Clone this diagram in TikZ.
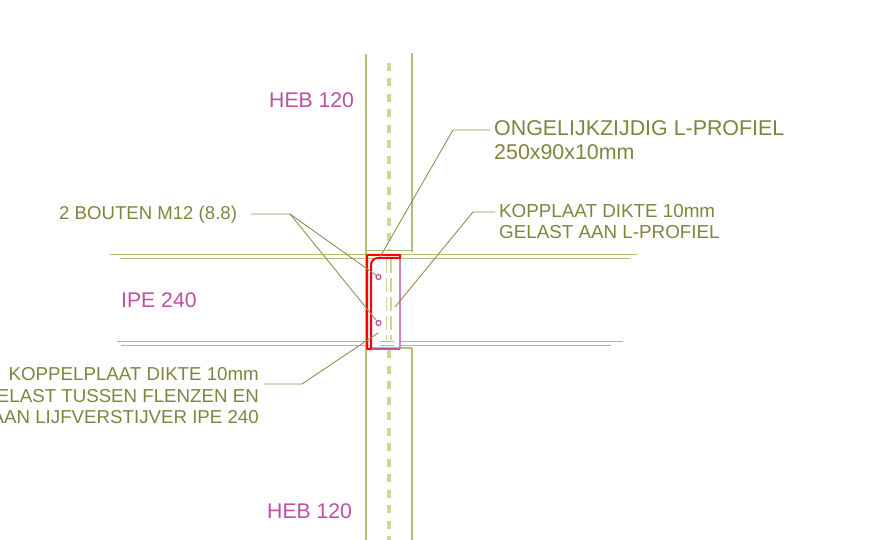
\documentclass[tikz,border=0pt]{standalone}
\usepackage{fontspec}
\setmainfont{Liberation Sans}
\usepackage{xcolor}
\definecolor{steel}{RGB}{176,190,120}
\definecolor{paleweb}{RGB}{205,214,155}
\definecolor{leadcol}{RGB}{140,145,85}
\definecolor{txtcol}{RGB}{128,132,62}
\definecolor{pinkcol}{RGB}{190,80,160}
\definecolor{platecol}{RGB}{210,130,195}
\tikzset{
  steelline/.style={steel,line width=1.5pt},
  webline/.style={paleweb,line width=4pt,dash pattern=on 8pt off 7.5pt},
  platedash/.style={paleweb,line width=1.5pt,dash pattern=on 14pt off 5pt},
  leader/.style={leadcol,line width=0.9pt},
  redline/.style={red,line width=2pt,line join=round},
  bolt/.style={circle,draw=pinkcol,line width=1.2pt,inner sep=0pt,minimum size=5pt},
  profile/.style={pinkcol,font=\fontsize{21.2}{25}\selectfont,inner sep=0pt},
  note/.style={txtcol,inner sep=0pt,align=left},
}
\begin{document}
\begin{tikzpicture}[x=1pt,y=-1pt]
        \useasboundingbox (0,0) rectangle (873,540);
        % column
        \draw[steelline] (366,54) -- (366,540);
        \draw[steelline] (412,53) -- (412,252);
        \draw[steelline] (412,348) -- (412,540);
        \draw[steelline] (366,250.5) -- (412,250.5);
        \draw[steelline] (366,348) -- (412,348);
        \draw[webline] (389,63) -- (389,250);
        \draw[webline] (389,350) -- (389,540);
        % beam
        \draw[steelline] (110,254.5) -- (637,254.5);
        \draw[steelline] (120,258.5) -- (630,258.5);
        \draw[steelline] (117,341.5) -- (623,341.5);
        \draw[steelline] (121,345.5) -- (611,345.5);
        % stiffener
        \draw[platedash] (386.5,259) -- (386.5,340);
        \draw[platedash] (391,259) -- (391,340);
        \draw[white,line width=2pt] (393.5,341.5) -- (399,341.5);
        \draw[white,line width=2pt] (372,341.5) -- (380,341.5);
        \draw[white,line width=2pt] (393.5,345.5) -- (399,345.5);
        \draw[white,line width=2pt] (372,345.5) -- (380,345.5);
        % plate
        \draw[platecol,line width=1.5pt] (400,258) -- (400,349);
        \draw[pinkcol,line width=1.2pt] (372,349) -- (400,349);
        % L-profile
        \draw[redline] (400,258) -- (400,255) -- (367,255) -- (367,349) -- (371,349) -- (371,265) arc[start angle=180,end angle=90,radius=7pt] -- cycle;
        % bolts
        \node[bolt] (bolta) at (378.5,277) {};
        \node[bolt] (boltb) at (378.5,323) {};
        % labels
        \node[profile,anchor=west] (hebtop) at (269,100) {HEB 120};
        \node[profile,anchor=west] (hebbot) at (267,511) {HEB 120};
        \node[profile,anchor=west] (ipe) at (121,300) {IPE 240};
        \node[note,anchor=west,font=\fontsize{21.4}{24}\selectfont] (lprofiel) at (494,140.5) {ONGELIJKZIJDIG L-PROFIEL\\250x90x10mm};
        \node[note,anchor=west,font=\fontsize{18.8}{21}\selectfont] (kopplaat) at (499,222) {KOPPLAAT DIKTE 10mm\\GELAST AAN L-PROFIEL};
        \node[note,anchor=west,font=\fontsize{18.6}{21}\selectfont] (bouten) at (59,214.5) {2 BOUTEN M12 (8.8)};
        \node[note,anchor=east,align=right,font=\fontsize{18.7}{21.5}\selectfont] (koppel) at (259,396) {KOPPELPLAAT DIKTE 10mm\\GELAST TUSSEN FLENZEN EN\\AAN LIJFVERSTIJVER IPE 240};
        % leaders
        \coordinate (lknee) at (453,130);
        \coordinate (lend) at (380,257);
        \coordinate (kknee) at (473,212);
        \coordinate (kend) at (395,307);
        \coordinate (bknee) at (290,214);
        \coordinate (pknee) at (302,384);
        \coordinate (pend) at (378,333);
        \draw[leader] (lprofiel.west |- lknee) ++(-4,0) -- (lknee) -- (lend);
        \draw[leader] (kopplaat.west |- kknee) ++(-4,0) -- (kknee) -- (kend);
        \draw[leader] (bouten.east |- bknee) ++(14,0) -- (bknee) -- (bolta);
        \draw[leader] (bknee) -- (boltb);
        \draw[leader] (koppel.east |- pknee) ++(5,0) -- (pknee) -- (pend);
      \end{tikzpicture}
\end{document}
